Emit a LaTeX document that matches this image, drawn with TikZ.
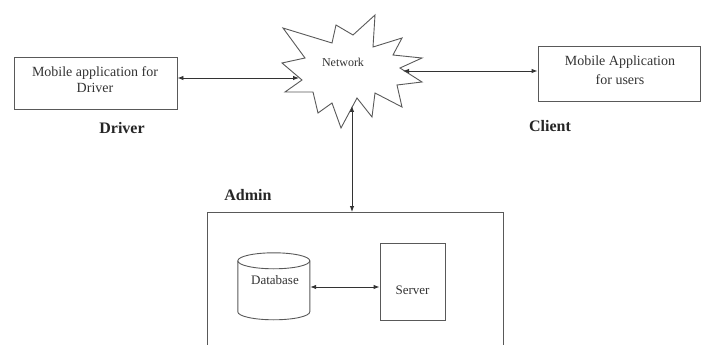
\documentclass[tikz,border=0pt]{standalone}
\usepackage{fontspec}
\setmainfont{Liberation Serif}
\usetikzlibrary{arrows.meta}
\tikzset{
  boxline/.style={draw=black!65, line width=0.9pt},
  boxtext/.style={text=black!80, font=\fontsize{14}{17}\selectfont, align=center, inner sep=0pt},
  lbl/.style={font=\fontsize{16}{18}\selectfont\bfseries, text=black!85, inner sep=0pt},
  conn/.style={draw=black!80, line width=0.9pt, {Latex[length=6pt,width=4.5pt]}-{Latex[length=6pt,width=4.5pt]}},
}
\begin{document}
\begin{tikzpicture}[x=1pt,y=-1pt]
\useasboundingbox (0,0) rectangle (702,345);
\clip (0,0) rectangle (702,345);
% driver
\node[boxline, minimum width=163pt, minimum height=52pt, inner sep=0pt] (driver) at (95.5,83) {};
\node[boxtext] (drivertxt) at (95,80) {Mobile application for\\[-1pt]Driver};
\node[lbl] (driverlbl) at (122,128) {Driver};
% client
\node[boxline, minimum width=162pt, minimum height=55pt, inner sep=0pt] (client) at (619,73.5) {};
\node[boxtext, font=\fontsize{14}{19}\selectfont] (clienttxt) at (620,70) {Mobile Application\\for users};
\node[lbl] (clientlbl) at (550,126) {Client};
% network star
\draw[boxline, fill=white] (283,28) -- (332,43) -- (336,25) -- (353,35) -- (375,15) -- (373,47) -- (402,38) -- (393,55) -- (422,58) -- (400,68) -- (422,82) -- (397,85) -- (402,107) -- (375,93) -- (372,117) -- (357,98) -- (341,128) -- (332,103) -- (318,113) -- (313,92) -- (285,92) -- (302,80) -- (282,63) -- (305,58) -- cycle;
\node[boxtext, font=\fontsize{12}{14}\selectfont] (net) at (343,62) {Network};
\coordinate (netL) at (299,78);
\coordinate (netR) at (403,71);
\coordinate (netB) at (352,106);
% admin
\node[lbl] (adminlbl) at (248,195) {Admin};
\node[boxline, minimum width=296pt, minimum height=160pt, inner sep=0pt, anchor=north west] (admin) at (207,212) {};
% database
\node[boxtext, minimum width=72pt, minimum height=67pt] (db) at (274,286.5) {};
\draw[boxline] (db.north west) ++(0,8) coordinate (dbtl)
  arc[start angle=180, end angle=-180, x radius=36pt, y radius=8pt];
\draw[boxline] (dbtl) -- ++(0,51) arc[start angle=180, end angle=360, x radius=36pt, y radius=8pt] -- ++(0,-51);
\node[boxtext, font=\fontsize{13}{15}\selectfont] (dbtxt) at (275,280) {Database};
% server
\node[boxline, boxtext, minimum width=65pt, minimum height=77pt] (server) at (412.5,281.5) {};
\node[boxtext, font=\fontsize{13}{15}\selectfont] (servertxt) at (412.5,290) {Server};
% connectors
\draw[conn] (driver.east |- netL) -- (netL);
\draw[conn] (netR) -- (client.west |- netR);
\draw[conn] (netB) -- (netB |- admin.north);
\draw[conn] (db.east |- 0,287) -- (server.west |- 0,287);
\end{tikzpicture}
\end{document}
